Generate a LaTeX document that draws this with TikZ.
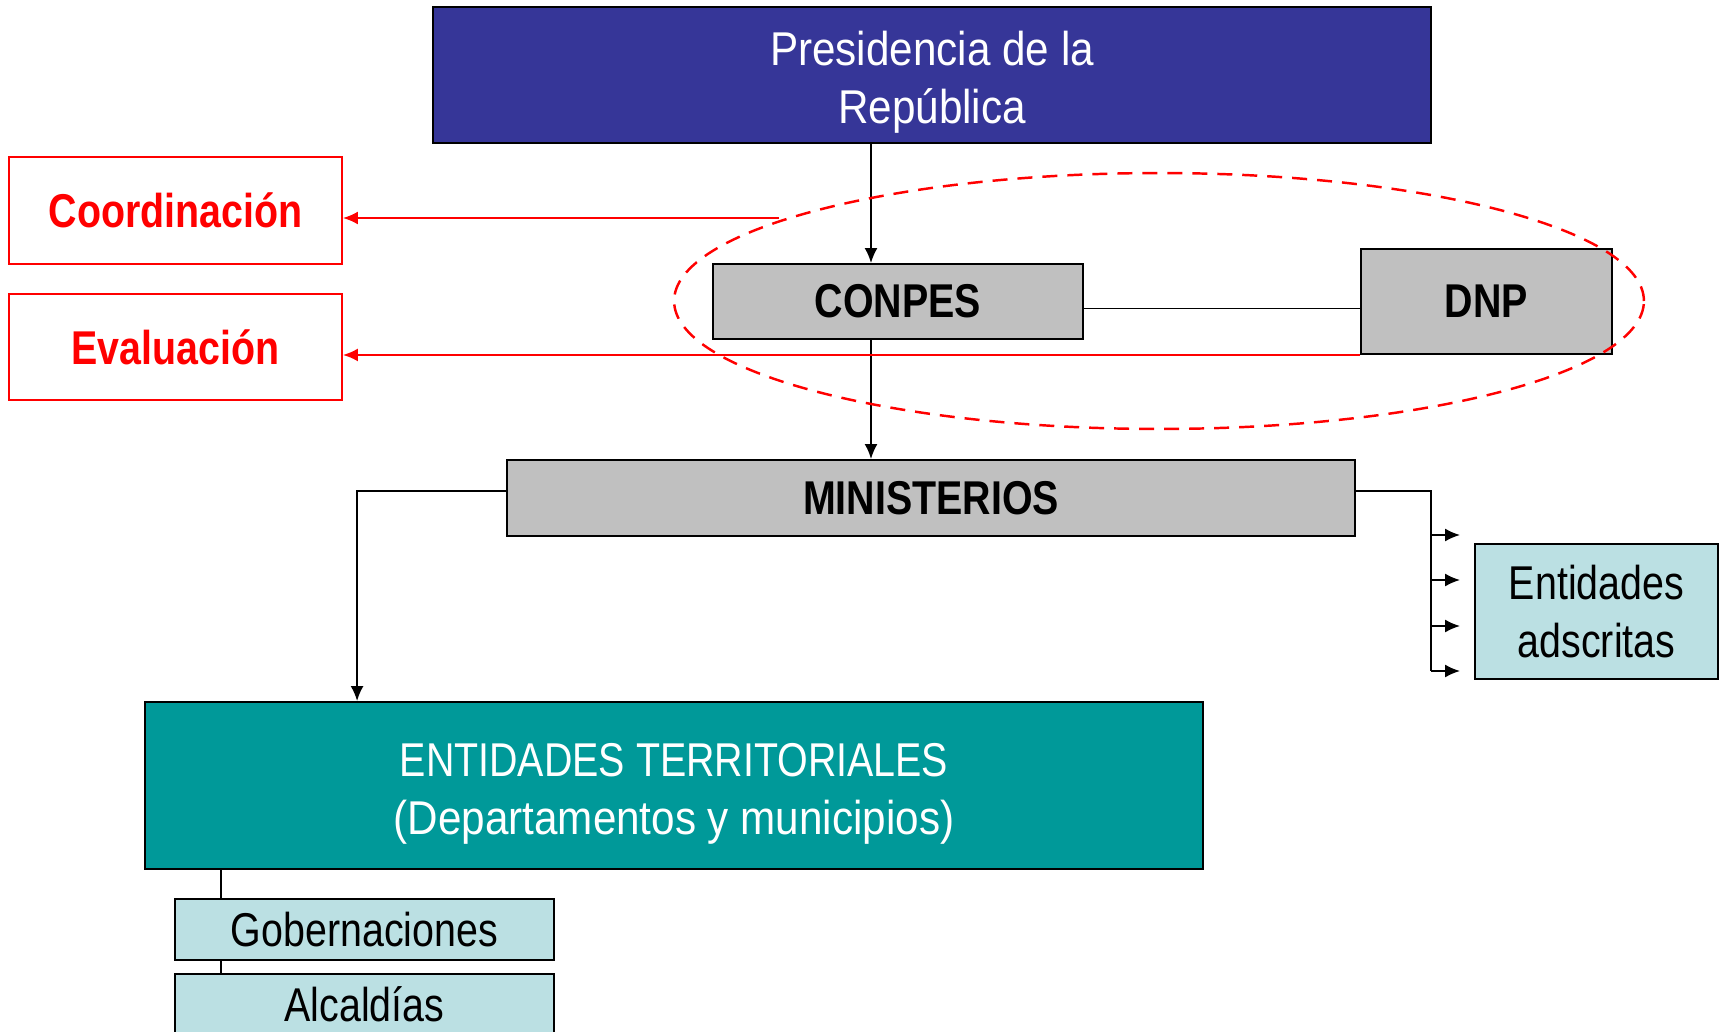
\documentclass[tikz,border=0pt]{standalone}
\usepackage{fontspec}
\setmainfont[FakeStretch=0.83]{Liberation Sans}
\newfontfamily\widefont[FakeStretch=0.89]{Liberation Sans}
\usetikzlibrary{arrows.meta}
\definecolor{presblue}{RGB}{54,54,152}
\definecolor{terrteal}{RGB}{0,153,153}
\definecolor{adsccyan}{RGB}{187,224,227}
\definecolor{boxgray}{RGB}{192,192,192}
\begin{document}
\begin{tikzpicture}[x=0.02cm, y=-0.02cm, line width=1.1pt,
    box/.style={draw=black, rectangle, align=center, inner sep=0pt, font=\fontsize{27}{33}\selectfont},
    graybox/.style={box, fill=boxgray, font=\fontsize{27}{33}\selectfont\bfseries},
    redbox/.style={box, draw=red, text=red, font=\fontsize{27}{33}\selectfont\bfseries},
    lightbox/.style={box, fill=adsccyan},
    arr/.style={-{Latex[length=0.3cm,width=0.26cm]}}]
    \useasboundingbox (0,0) rectangle (1726,1031);
    \node[box, fill=presblue, text=white, minimum width=19.96cm, minimum height=2.72cm] (pres) at (932,75) {\widefont\rule{0pt}{28pt}Presidencia de la\\\widefont República};
    \node[redbox, minimum width=6.66cm, minimum height=2.14cm] (coord) at (175.5,210.5) {Coordinación};
    \node[redbox, minimum width=6.66cm, minimum height=2.12cm] (eval) at (175.5,347) {Evaluación};
    \node[graybox, minimum width=7.4cm, minimum height=1.5cm] (conpes) at (898,301.5) {CONPES};
    \node[graybox, minimum width=5.02cm, minimum height=2.1cm] (dnp) at (1486.5,301.5) {DNP};
    \node[graybox, minimum width=16.96cm, minimum height=1.52cm] (min) at (931,498) {MINISTERIOS};
    \node[lightbox, minimum width=4.86cm, minimum height=2.7cm] (adsc) at (1596.5,611.5) {Entidades\\adscritas};
    \node[box, fill=terrteal, text=white, minimum width=21.16cm, minimum height=3.34cm] (terr) at (674,785.5) {\rule{0pt}{28pt}ENTIDADES TERRITORIALES\\\widefont(Departamentos y municipios)};
    \node[lightbox, minimum width=7.58cm, minimum height=1.22cm] (gob) at (364.5,929.5) {Gobernaciones};
    \node[lightbox, minimum width=7.58cm, minimum height=1.22cm] (alc) at (364.5,1004.5) {Alcaldías};
    \coordinate (p1) at ([xshift=-0.54cm]conpes.north);
    \draw[arr] (p1 |- pres.south) -- (p1);
    \draw[arr] (p1 |- conpes.south) -- (p1 |- min.north);
    \draw ([yshift=-0.14cm]conpes.east) -- ([yshift=-0.14cm]dnp.west);
    \coordinate (c1) at (779,218);
    \draw[red, arr] (c1) -- (coord.east |- c1);
    \draw[red, arr] (dnp.south west) -- (eval.east |- dnp.south west);
    \draw[arr] ([yshift=0.14cm]min.west) -| ([xshift=-6.34cm]terr.north);
    \foreach \y [count=\i] in {535,580,626,671} \coordinate (a\i) at (1431,\y);
    \draw ([yshift=0.14cm]min.east) -| (a4);
    \foreach \i in {1,...,4} \draw[arr, shorten >=0.28cm] (a\i) -- (adsc.west |- a\i);
    \coordinate (g1) at ([xshift=-2.87cm]gob.north);
    \draw (g1 |- terr.south) -- (g1);
    \draw (g1 |- gob.south) -- (g1 |- alc.north);
    \draw[red, dash pattern=on 0.3cm off 0.2cm, line width=1.4pt] (1159,301) ellipse [x radius=9.7cm, y radius=2.56cm];
\end{tikzpicture}
\end{document}
